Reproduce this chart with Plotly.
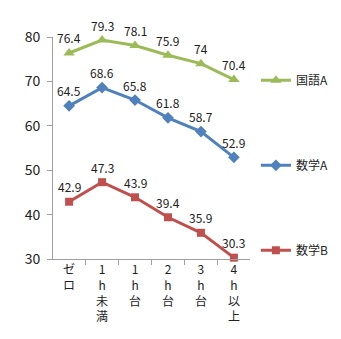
import plotly.graph_objects as go

categories = ["ゼロ", "1h未満", "1h台", "2h台", "3h台", "4h以上"]
tick_text = ["ゼ<br>ロ", "1<br>h<br>未<br>満", "1<br>h<br>台", "2<br>h<br>台", "3<br>h<br>台", "4<br>h<br>以<br>上"]
kokugo_a = [76.4, 79.3, 78.1, 75.9, 74, 70.4]
sugaku_a = [64.5, 68.6, 65.8, 61.8, 58.7, 52.9]
sugaku_b = [42.9, 47.3, 43.9, 39.4, 35.9, 30.3]

FONT = "Noto Sans CJK JP"

series = [
    ("国語A", kokugo_a, "#9BBB59", "triangle-up", 10),
    ("数学A", sugaku_a, "#4F81BD", "diamond", 9),
    ("数学B", sugaku_b, "#C0504D", "square", 8),
]

fig = go.Figure()
for i, (name, vals, color, symbol, msize) in enumerate(series):
    fig.add_trace(go.Scatter(
        x=categories, y=vals, name=name,
        mode="lines+markers",
        line=dict(color=color, width=3),
        marker=dict(symbol=symbol, size=msize, color=color),
        legendgroup=f"g{i}",
        cliponaxis=False,
    ))
    # value labels sitting above each point
    for c, v in zip(categories, vals):
        fig.add_annotation(
            x=c, y=v, text=f"{v:g}", showarrow=False,
            yshift=15, yanchor="middle", xanchor="center",
            font=dict(family=FONT, size=12, color="#222222"),
        )

fig.update_layout(
    width=341, height=339,
    margin=dict(l=53, r=91, t=37, b=80, autoexpand=False),
    paper_bgcolor="white", plot_bgcolor="white",
    font=dict(family=FONT, color="#222222"),
    showlegend=True,
    legend=dict(
        x=1.03, xanchor="left", y=0.87, yanchor="top",
        tracegroupgap=66,
        font=dict(family=FONT, size=12, color="#222222"),
        itemwidth=30,
        bgcolor="rgba(0,0,0,0)",
    ),
    xaxis=dict(
        type="category",
        tickmode="array", tickvals=categories, ticktext=tick_text,
        tickson="boundaries", ticks="outside", ticklen=5, tickcolor="#A0A0A0",
        showline=True, linecolor="#A0A0A0", linewidth=1,
        showgrid=False, zeroline=False,
        tickfont=dict(family=FONT, size=12, color="#222222"),
        tickangle=0,
    ),
    yaxis=dict(
        range=[30, 80], tickvals=[30, 40, 50, 60, 70, 80],
        ticks="outside", ticklen=5, tickcolor="#A0A0A0",
        showline=True, linecolor="#A0A0A0", linewidth=1,
        showgrid=False, zeroline=False,
        ticklabelstandoff=4,
        tickfont=dict(family=FONT, size=14, color="#222222"),
    ),
)

fig.write_html("out.html")
